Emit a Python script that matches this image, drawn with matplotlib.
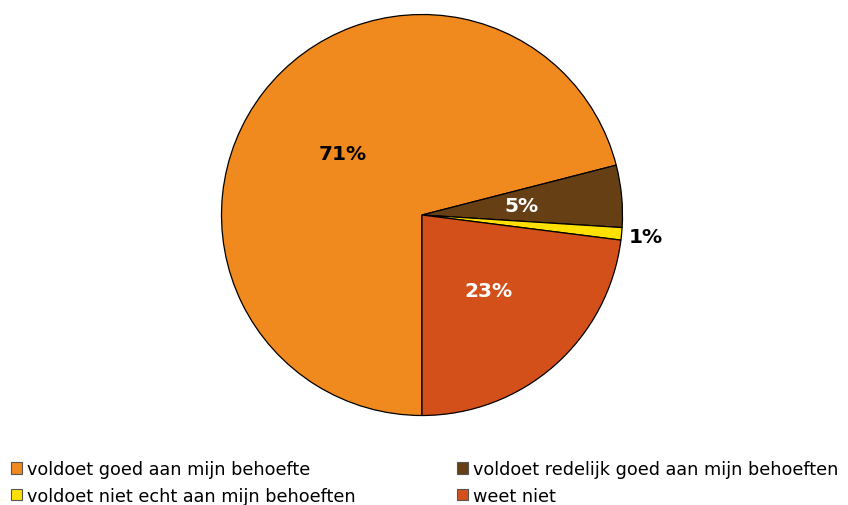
import matplotlib.pyplot as plt
from matplotlib.patches import Patch
import numpy as np

labels = ['voldoet goed aan mijn behoefte', 'voldoet redelijk goed aan mijn behoeften',
          'voldoet niet echt aan mijn behoeften', 'weet niet']
values = [71, 5, 1, 23]
colors = ['#F0891E', '#663F14', '#FFE000', '#D4501A']
pct_colors = ['black', 'white', 'black', 'white']

fig = plt.figure(figsize=(8.48, 5.06), dpi=100)
ax = fig.add_axes([221.5 / 848, 89.5 / 506, 401 / 848, 401 / 506])

wedges, texts, autotexts = ax.pie(values, colors=colors, startangle=270, counterclock=False,
                                  autopct='%d%%', pctdistance=0.5,
                                  wedgeprops=dict(edgecolor='black', linewidth=0.9))
for t, c in zip(autotexts, pct_colors):
    t.set_color(c)
    t.set_fontsize(14.5)
    t.set_fontweight('bold')

# the small slice gets its label outside the pie
w = wedges[2]
mid = np.deg2rad((w.theta1 + w.theta2) / 2)
autotexts[2].set_position((1.12 * np.cos(mid), 1.12 * np.sin(mid)))

ax.set_aspect('equal')
ax.set_xlim(-1, 1)
ax.set_ylim(-1, 1)

order = [0, 2, 1, 3]
handles = [Patch(facecolor=colors[i], edgecolor='#555555', linewidth=0.8) for i in order]
fig.legend(handles, [labels[i] for i in order], ncol=2, loc='lower left',
           bbox_to_anchor=(11 / 848, 0.0), frameon=False, fontsize=12.7,
           borderpad=0, borderaxespad=0,
           handlelength=0.6, handleheight=0.6, handletextpad=0.3,
           columnspacing=5.77, labelspacing=0.5)

fig.savefig('out.png', dpi=100)
